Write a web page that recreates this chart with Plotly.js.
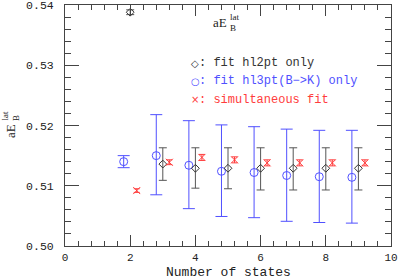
<!DOCTYPE html>
<html><head><meta charset="utf-8">
<script src="https://cdn.plot.ly/plotly-3.0.1.min.js"></script>
<style>html,body{margin:0;padding:0;background:#fff}#plot{width:399px;height:277px}</style>
</head><body><div id="plot"></div>
<script>
// hl2pt only
const xHl2 = [2, 3, 4, 5, 6, 7, 8, 9];
const yHl2 = [0.5388, 0.5136, 0.5129, 0.5129, 0.5129, 0.5129, 0.5129, 0.5129];
const ePlusHl2 = [0.0004, 0.0027, 0.0034, 0.0034, 0.0034, 0.0034, 0.0034, 0.0034];
const eMinusHl2 = [0.0004, 0.0027, 0.0033, 0.0034, 0.0036, 0.0036, 0.0036, 0.0036];
// hl3pt(B->K) only
const xHl3 = [1.8, 2.8, 3.8, 4.8, 5.8, 6.8, 7.8, 8.8];
const yHl3 = [0.5140, 0.5150, 0.5134, 0.5124, 0.5122, 0.5117, 0.5115, 0.5114];
const ePlusHl3 = [0.0010, 0.0068, 0.0074, 0.0077, 0.0076, 0.0077, 0.0077, 0.0078];
const eMinusHl3 = [0.0010, 0.0065, 0.0072, 0.0075, 0.0075, 0.0076, 0.0076, 0.0076];
// simultaneous fit
const xSim = [2.2, 3.2, 4.2, 5.2, 6.2, 7.2, 8.2, 9.2];
const ySim = [0.5092, 0.5139, 0.5147, 0.5143, 0.5138, 0.5138, 0.5138, 0.5138];
const eSim = [0.0003, 0.0004, 0.0005, 0.0005, 0.0005, 0.0005, 0.0005, 0.0005];

const xTickVals = [0, 2, 4, 6, 8, 10];
const xTickText = ['0', '2', '4', '6', '8', '10'];
const yTickVals = [0.50, 0.51, 0.52, 0.53, 0.54];
const yTickText = ['0.50', '0.51', '0.52', '0.53', '0.54'];

const legendLabels = [': fit hl2pt only', ': fit hl3pt(B\u2212>K) only', ': simultaneous fit'];
const legendSymbols = ['\u25C7', '\u25CB', '\u00D7'];
const xTitle = 'Number of states';

const BLACK = '#333', BLUE = 'rgb(80,80,255)', RED = 'rgb(255,60,60)';

const traces = [
  {x: xHl3, y: yHl3, type: 'scatter', mode: 'markers',
   marker: {symbol: 'circle-open', size: 8, color: BLUE, line: {width: 1, color: BLUE}},
   error_y: {type: 'data', symmetric: false, array: ePlusHl3, arrayminus: eMinusHl3, color: BLUE, thickness: 1, width: 6}},
  {x: xHl2, y: yHl2, type: 'scatter', mode: 'markers',
   marker: {symbol: 'diamond-open', size: 6, color: BLACK, line: {width: 1, color: BLACK}},
   error_y: {type: 'data', symmetric: false, array: ePlusHl2, arrayminus: eMinusHl2, color: '#555', thickness: 1, width: 4}},
  {x: xSim, y: ySim, type: 'scatter', mode: 'markers',
   marker: {symbol: 'x-thin-open', size: 7, color: RED, line: {width: 1, color: RED}},
   error_y: {type: 'data', array: eSim, color: RED, thickness: 1, width: 3}}
];

const legendColors = [BLACK, BLUE, RED];
const legendY = [63, 81, 100];
const annotations = [];
const px = v => (v - 65) / 326, py = v => 1 - (v - 5) / 241;
legendLabels.forEach((t, i) => {
  annotations.push({xref: 'paper', yref: 'paper', x: px(195), y: py(legendY[i]),
    text: legendSymbols[i], showarrow: false, xanchor: 'center', yanchor: 'middle',
    font: {family: 'DejaVu Sans', size: 10, color: legendColors[i]}});
  annotations.push({xref: 'paper', yref: 'paper', x: px(197), y: py(legendY[i]),
    text: t, showarrow: false, xanchor: 'left', yanchor: 'middle',
    font: {family: 'Liberation Mono', size: 12, color: legendColors[i]}});
});
// in-plot label aE_B^lat
annotations.push({xref: 'paper', yref: 'paper', x: px(229), y: py(23), text: 'aE', showarrow: false,
  xanchor: 'right', yanchor: 'middle', font: {family: 'Liberation Serif', size: 13, color: '#222'}});
annotations.push({xref: 'paper', yref: 'paper', x: px(228), y: py(17), text: 'lat', showarrow: false,
  xanchor: 'left', yanchor: 'middle', font: {family: 'Liberation Serif', size: 9, color: '#222'}});
annotations.push({xref: 'paper', yref: 'paper', x: px(228), y: py(28), text: 'B', showarrow: false,
  xanchor: 'left', yanchor: 'middle', font: {family: 'Liberation Serif', size: 9, color: '#222'}});
// y axis label (rotated)
annotations.push({xref: 'paper', yref: 'paper', x: px(10), y: py(122), text: 'aE', showarrow: false, textangle: -90,
  xanchor: 'center', yanchor: 'top', font: {family: 'Liberation Serif', size: 13, color: '#222'}});
annotations.push({xref: 'paper', yref: 'paper', x: px(4), y: py(123), text: 'lat', showarrow: false, textangle: -90,
  xanchor: 'center', yanchor: 'bottom', font: {family: 'Liberation Serif', size: 9, color: '#222'}});
annotations.push({xref: 'paper', yref: 'paper', x: px(16), y: py(123), text: 'B', showarrow: false, textangle: -90,
  xanchor: 'center', yanchor: 'bottom', font: {family: 'Liberation Serif', size: 9, color: '#222'}});
// x axis title
annotations.push({xref: 'paper', yref: 'paper', x: px(228), y: py(272.5), text: xTitle, showarrow: false,
  xanchor: 'center', yanchor: 'middle', font: {family: 'Liberation Mono', size: 13, color: '#222'}});

const layout = {
  width: 399, height: 277,
  margin: {l: 65, r: 8, t: 5, b: 31},
  paper_bgcolor: '#fff', plot_bgcolor: '#fff',
  showlegend: false,
  font: {family: 'Liberation Mono', size: 11, color: '#222'},
  xaxis: {range: [0, 10], tickvals: xTickVals, ticktext: xTickText,
    ticks: 'inside', ticklen: 11, tickcolor: '#444', showgrid: false, zeroline: false,
    showline: true, linecolor: '#444', linewidth: 1, mirror: 'allticks',
    ticklabeloverflow: 'allow', ticklabelstandoff: 1,
    minor: {dtick: 0.4, tick0: 0, ticks: 'inside', ticklen: 5, tickcolor: '#444', showgrid: false},
    tickfont: {family: 'Liberation Mono', size: 11}},
  yaxis: {range: [0.50, 0.54], tickvals: yTickVals, ticktext: yTickText,
    ticks: 'inside', ticklen: 14, tickcolor: '#444', showgrid: false, zeroline: false,
    showline: true, linecolor: '#444', linewidth: 1, mirror: 'allticks',
    ticklabeloverflow: 'allow', ticklabelstandoff: 8,
    minor: {dtick: 0.002, tick0: 0.5, ticks: 'inside', ticklen: 6, tickcolor: '#444', showgrid: false},
    tickfont: {family: 'Liberation Mono', size: 11.5}},
  annotations: annotations
};

Plotly.newPlot('plot', traces, layout, {displayModeBar: false, staticPlot: true});
</script></body></html>
